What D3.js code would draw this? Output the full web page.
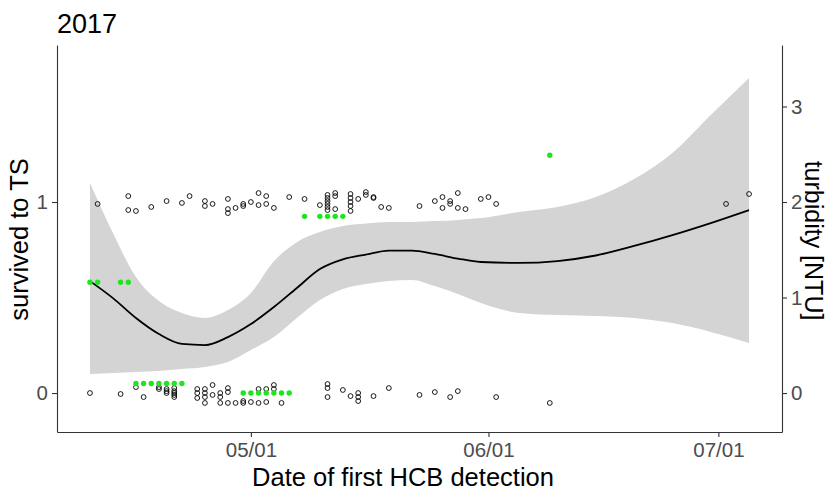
<!DOCTYPE html>
<html>
<head>
  <meta charset="utf-8">
  <title>2017</title>
  <style>
    body { margin: 0; background: #fff; }
    text { font-family: "Liberation Sans", Arial, sans-serif; }
    .axis path, .axis line { stroke: #333; stroke-width: 1.1; }
    .axis text { fill: #4d4d4d; font-size: 20.5px; }
  </style>
</head>
<body>
  <svg width="833" height="493"></svg>

  <script src="https://cdnjs.cloudflare.com/ajax/libs/d3/7.8.5/d3.min.js"></script>
  <script>
    // survival (0/1, jittered vertically) by date
    const survDates = [
      '04-11','04-15','04-15','04-16','04-18','04-20','04-22','04-23','04-25','04-25',
      '04-26','04-28','04-28','04-28','04-29','04-30','04-30','05-01','05-02','05-02',
      '05-03','05-03','05-04','05-06','05-08','05-10','05-11','05-11','05-11','05-11',
      '05-11','05-11','05-12','05-12','05-12','05-14','05-14','05-14','05-14','05-14',
      '05-15','05-16','05-16','05-17','05-17','05-18','05-19','05-23','05-25','05-26',
      '05-26','05-27','05-27','05-28','05-28','05-29','05-31','06-01','06-02','07-02',
      '07-05',
      '04-10','04-14','04-16','04-17','04-19','04-19','04-20','04-20','04-20','04-21',
      '04-21','04-21','04-21','04-21','04-24','04-24','04-24','04-25','04-25','04-25',
      '04-25','04-26','04-26','04-27','04-27','04-27','04-28','04-28','04-28','04-29',
      '04-30','04-30','05-01','05-02','05-02','05-03','05-03','05-04','05-04','05-05',
      '05-11','05-11','05-11','05-13','05-14','05-15','05-15','05-15','05-17','05-19',
      '05-23','05-25','05-27','05-28','06-02','06-09'
    ];
    const survValues = [
      0.990, 1.031, 0.958, 0.953, 0.974, 1.005, 0.995, 1.031, 1.005, 0.979,
      0.990, 1.016, 0.963, 0.942, 0.969, 0.990, 0.979, 1.000, 1.047, 0.984,
      1.031, 0.990, 0.969, 1.026, 1.016, 0.984, 1.037, 1.021, 1.005, 0.990,
      0.974, 0.958, 1.047, 1.031, 0.963, 1.042, 1.021, 1.000, 0.979, 0.953,
      1.016, 1.052, 1.037, 1.026, 1.021, 0.974, 0.969, 0.979, 1.005, 1.026,
      0.969, 1.005, 0.990, 1.047, 0.969, 0.963, 1.016, 1.026, 0.990, 0.990,
      1.042,
      0.000, -0.005, 0.031, -0.021, 0.031, 0.021, 0.021, 0.010, 0.000, 0.026,
      0.010, 0.000, -0.010, -0.021, 0.021, 0.000, -0.026, 0.021, 0.000, -0.021,
      -0.052, 0.042, -0.010, 0.000, -0.021, -0.052, 0.026, 0.005, -0.052, -0.052,
      -0.042, -0.052, -0.047, 0.021, -0.052, 0.021, -0.047, 0.042, 0.021, -0.052,
      0.047, 0.026, -0.021, 0.016, -0.016, 0.000, -0.021, -0.042, -0.016, 0.026,
      -0.010, 0.005, -0.021, 0.010, -0.021, -0.052
    ];

    // turbidity [NTU] by date
    const turbDates = [
      '04-10','04-11','04-14','04-15',
      '04-16','04-17','04-18','04-19','04-20','04-21','04-22',
      '04-30','05-01','05-02','05-03','05-04','05-05','05-06',
      '05-08','05-10','05-11','05-12','05-13',
      '06-09'
    ];
    const turbValues = [
      1.16, 1.16, 1.16, 1.16,
      0.10, 0.10, 0.10, 0.10, 0.10, 0.10, 0.10,
      0, 0, 0, 0, 0, 0, 0,
      1.85, 1.85, 1.85, 1.85, 1.85,
      2.49
    ];

    // smoother: fit and confidence band
    const smoothDates = [
      '04-10','04-13','04-16','04-19','04-22','04-25','04-28','05-01','05-04','05-07',
      '05-10','05-13','05-16','05-19','05-22','05-25','05-28','05-31','06-05','06-10',
      '06-15','06-20','06-25','06-30','07-05'
    ];
    const smoothFit = [
      0.586, 0.497, 0.393, 0.309, 0.257, 0.251, 0.293, 0.361, 0.450, 0.550,
      0.649, 0.700, 0.725, 0.746, 0.746, 0.728, 0.704, 0.686, 0.681, 0.691,
      0.720, 0.770, 0.827, 0.890, 0.958
    ];
    const smoothUpper = [
      1.100, 0.838, 0.607, 0.482, 0.419, 0.393, 0.435, 0.524, 0.690, 0.790,
      0.843, 0.874, 0.887, 0.895, 0.895, 0.900, 0.906, 0.916, 0.948, 0.974,
      1.026, 1.120, 1.257, 1.455, 1.649
    ];
    const smoothLower = [
      0.100, 0.105, 0.110, 0.115, 0.126, 0.136, 0.162, 0.225, 0.293, 0.393,
      0.487, 0.545, 0.571, 0.586, 0.592, 0.560, 0.518, 0.471, 0.419, 0.408,
      0.403, 0.393, 0.366, 0.320, 0.262
    ];

    const xTicks = ['05-01', '06-01', '07-01'];

    const parse = s => d3.timeParse('%Y-%m-%d')('2017-' + s);

    const svg = d3.select('svg');
    const margin = {top: 45, right: 51, bottom: 61, left: 57};
    const width = 833 - margin.left - margin.right;
    const height = 493 - margin.top - margin.bottom;

    const allDates = survDates.concat(turbDates, smoothDates).map(parse);
    const ext = d3.extent(allDates);
    const pad = (ext[1] - ext[0]) * 0.05;

    const x = d3.scaleTime()
                .domain([new Date(+ext[0] - pad), new Date(+ext[1] + pad)])
                .range([margin.left, margin.left + width]);
    const y = d3.scaleLinear()
                .domain([-0.204, 1.822])
                .range([margin.top + height, margin.top]);
    // secondary axis: turbidity = 2 * survival scale
    const y2 = d3.scaleLinear()
                 .domain(y.domain().map(v => v * 2))
                 .range(y.range());

    const smooth = smoothDates.map((d, i) => ({
      date: parse(d), fit: smoothFit[i], hi: smoothUpper[i], lo: smoothLower[i]
    }));

    svg.append('path')
       .datum(smooth)
       .attr('fill', '#d4d4d4')
       .attr('d', d3.area()
                    .curve(d3.curveMonotoneX)
                    .x(d => x(d.date))
                    .y0(d => y(d.lo))
                    .y1(d => y(d.hi)));

    svg.append('path')
       .datum(smooth)
       .attr('fill', 'none')
       .attr('stroke', '#000')
       .attr('stroke-width', 1.8)
       .attr('d', d3.line()
                    .curve(d3.curveMonotoneX)
                    .x(d => x(d.date))
                    .y(d => y(d.fit)));

    svg.append('g')
       .selectAll('circle')
       .data(survDates.map((d, i) => ({date: parse(d), v: survValues[i]})))
       .enter().append('circle')
       .attr('cx', d => x(d.date))
       .attr('cy', d => y(d.v))
       .attr('r', 2.4)
       .attr('fill', 'none')
       .attr('stroke', '#000')
       .attr('stroke-width', 0.9);

    svg.append('g')
       .selectAll('circle')
       .data(turbDates.map((d, i) => ({date: parse(d), v: turbValues[i]})))
       .enter().append('circle')
       .attr('cx', d => x(d.date))
       .attr('cy', d => y2(d.v))
       .attr('r', 2.7)
       .attr('fill', '#1ee61e');

    const xAxis = d3.axisBottom(x)
                    .tickValues(xTicks.map(parse))
                    .tickFormat(d3.timeFormat('%m/%d'))
                    .tickSize(5).tickPadding(5).tickSizeOuter(0);
    svg.append('g')
       .attr('class', 'axis')
       .attr('transform', 'translate(0,' + (margin.top + height) + ')')
       .call(xAxis);

    svg.append('g')
       .attr('class', 'axis')
       .attr('transform', 'translate(' + margin.left + ',0)')
       .call(d3.axisLeft(y).tickValues([0, 1]).tickFormat(d3.format('d'))
               .tickSize(5).tickPadding(4).tickSizeOuter(0));

    svg.append('g')
       .attr('class', 'axis')
       .attr('transform', 'translate(' + (margin.left + width) + ',0)')
       .call(d3.axisRight(y2).tickValues([0, 1, 2, 3]).tickFormat(d3.format('d'))
               .tickSize(5).tickPadding(4).tickSizeOuter(0));

    svg.selectAll('.axis .domain').attr('stroke', '#333');

    svg.append('text')
       .attr('x', 57).attr('y', 33)
       .attr('font-size', 27)
       .text('2017');

    svg.append('text')
       .attr('x', 403).attr('y', 486)
       .attr('text-anchor', 'middle')
       .attr('font-size', 25.5)
       .text('Date of first HCB detection');

    svg.append('text')
       .attr('transform', 'translate(28,' + (margin.top + height / 2 + 1) + ') rotate(-90)')
       .attr('text-anchor', 'middle')
       .attr('font-size', 25.5)
       .text('survived to TS');

    svg.append('text')
       .attr('transform', 'translate(805,' + (margin.top + height / 2 + 2) + ') rotate(90)')
       .attr('text-anchor', 'middle')
       .attr('font-size', 25)
       .text('turbidity [NTU]');
  </script>
</body>
</html>
